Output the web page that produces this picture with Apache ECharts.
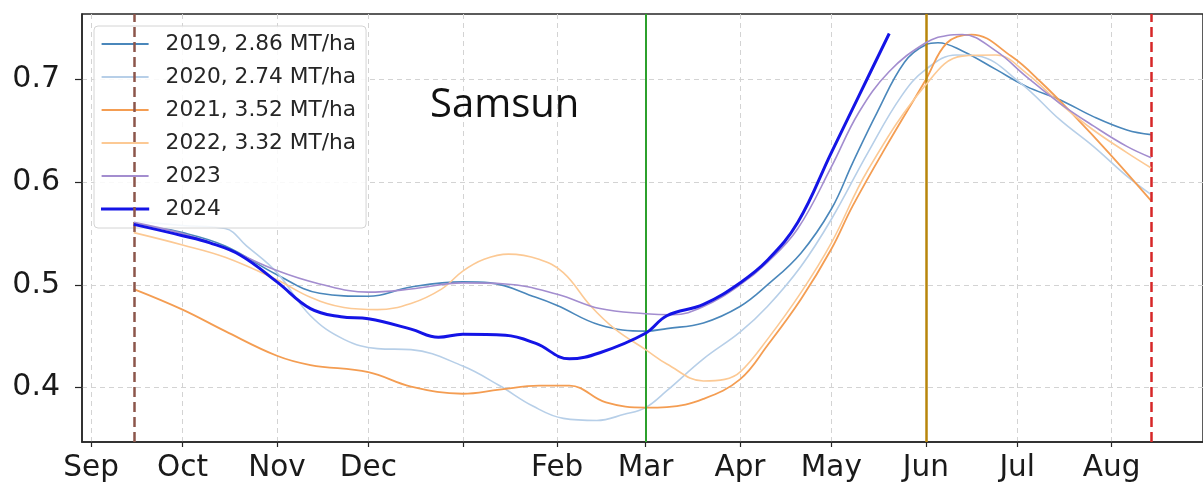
<!DOCTYPE html>
<html>
<head>
<meta charset="utf-8">
<script src="https://cdn.jsdelivr.net/npm/echarts@6/dist/echarts.min.js"></script>
<style>
html,body{margin:0;padding:0;background:#fff;}
#chart{width:1203px;height:491px;}
</style>
</head>
<body>
<div id="chart"></div>
<script>
// ---- tick labels ----
const monthTicks = ['2023-09-01','2023-10-01','2023-11-01','2023-12-01','2024-01-01','2024-02-01','2024-03-01','2024-04-01','2024-05-01','2024-06-01','2024-07-01','2024-08-01'];
const monthLabels = ['Sep','Oct','Nov','Dec','','Feb','Mar','Apr','May','Jun','Jul','Aug'];
const yTicks = [0.4, 0.5, 0.6, 0.7];

// ---- series names ----
const seriesNames = ['2019, 2.86 MT/ha','2020, 2.74 MT/ha','2021, 3.52 MT/ha','2022, 3.32 MT/ha','2023','2024'];

// ---- series values ----
const dates2019 = ['2023-09-15','2023-10-01','2023-10-15','2023-11-01','2023-11-15','2023-12-01','2023-12-15','2024-01-01','2024-01-10','2024-01-25','2024-02-01','2024-02-15','2024-03-01','2024-03-08','2024-03-20','2024-04-01','2024-04-10','2024-04-21','2024-05-01','2024-05-08','2024-05-16','2024-05-25','2024-06-01','2024-06-05','2024-06-13','2024-06-24','2024-07-04','2024-07-15','2024-07-26','2024-08-06','2024-08-14'];
const ndvi2019 = [0.560,0.551,0.538,0.510,0.492,0.489,0.498,0.503,0.502,0.488,0.480,0.461,0.455,0.4575,0.463,0.479,0.500,0.531,0.574,0.619,0.668,0.717,0.734,0.736,0.728,0.710,0.6935,0.6805,0.664,0.651,0.6465];

const dates2020 = ['2023-09-15','2023-10-01','2023-10-15','2023-10-22','2023-11-01','2023-11-12','2023-11-23','2023-12-04','2023-12-15','2024-01-01','2024-01-13','2024-01-24','2024-02-03','2024-02-14','2024-02-23','2024-03-01','2024-03-08','2024-03-20','2024-04-01','2024-04-10','2024-04-21','2024-05-01','2024-05-13','2024-05-24','2024-06-01','2024-06-11','2024-06-18','2024-07-02','2024-07-15','2024-07-26','2024-08-06','2024-08-14'];
const ndvi2020 = [0.562,0.558,0.555,0.538,0.512,0.470,0.447,0.438,0.437,0.421,0.402,0.382,0.370,0.368,0.374,0.3805,0.397,0.428,0.454,0.479,0.518,0.564,0.629,0.684,0.710,0.724,0.723,0.697,0.661,0.635,0.606,0.588];

const dates2021 = ['2023-09-15','2023-10-01','2023-10-15','2023-11-01','2023-11-12','2023-12-01','2023-12-15','2024-01-01','2024-01-13','2024-01-26','2024-02-05','2024-02-17','2024-03-01','2024-03-08','2024-03-20','2024-04-01','2024-04-10','2024-04-21','2024-05-01','2024-05-08','2024-05-19','2024-06-01','2024-06-08','2024-06-16','2024-06-29','2024-07-09','2024-07-20','2024-07-31','2024-08-14'];
const ndvi2021 = [0.496,0.476,0.455,0.431,0.422,0.415,0.401,0.394,0.398,0.402,0.402,0.3855,0.3805,0.381,0.389,0.408,0.441,0.486,0.535,0.577,0.635,0.700,0.736,0.744,0.723,0.697,0.664,0.629,0.582];

const dates2022 = ['2023-09-15','2023-10-01','2023-10-15','2023-11-01','2023-11-12','2023-11-23','2023-12-04','2023-12-15','2023-12-25','2024-01-01','2024-01-08','2024-01-16','2024-01-26','2024-02-03','2024-02-12','2024-02-20','2024-03-01','2024-03-08','2024-03-20','2024-03-27','2024-04-01','2024-04-10','2024-04-21','2024-05-01','2024-05-13','2024-06-01','2024-06-13','2024-06-24','2024-07-04','2024-07-15','2024-07-26','2024-08-06','2024-08-14'];
const ndvi2022 = [0.551,0.539,0.527,0.505,0.488,0.478,0.476,0.482,0.496,0.5135,0.525,0.530,0.525,0.512,0.4795,0.457,0.437,0.423,0.4065,0.408,0.415,0.447,0.4925,0.541,0.612,0.695,0.723,0.724,0.7065,0.677,0.651,0.629,0.614];

const dates2023 = ['2023-09-15','2023-10-01','2023-10-15','2023-11-01','2023-11-15','2023-12-01','2023-12-15','2024-01-01','2024-01-15','2024-02-01','2024-02-15','2024-03-01','2024-03-10','2024-03-20','2024-04-01','2024-04-10','2024-04-20','2024-05-01','2024-05-10','2024-05-20','2024-06-01','2024-06-08','2024-06-13','2024-06-24','2024-07-04','2024-07-15','2024-07-26','2024-08-06','2024-08-14'];
const ndvi2023 = [0.561,0.550,0.536,0.514,0.501,0.493,0.496,0.502,0.501,0.491,0.477,0.472,0.471,0.479,0.500,0.522,0.555,0.615,0.668,0.708,0.736,0.743,0.744,0.728,0.703,0.677,0.655,0.635,0.624];

const dates2024 = ['2023-09-15','2023-10-01','2023-10-10','2023-10-20','2023-11-01','2023-11-12','2023-11-22','2023-12-01','2023-12-15','2023-12-24','2024-01-01','2024-01-15','2024-01-25','2024-02-05','2024-02-15','2024-03-01','2024-03-08','2024-03-20','2024-04-01','2024-04-10','2024-04-20','2024-05-01','2024-05-10','2024-05-20'];
const ndvi2024 = [0.559,0.548,0.541,0.529,0.503,0.477,0.469,0.467,0.457,0.449,0.452,0.451,0.443,0.428,0.434,0.453,0.470,0.481,0.502,0.524,0.561,0.629,0.684,0.745];

// ---- reference dates (vertical markers) ----
const markerDates = ['2023-09-15','2024-03-01','2024-06-01','2024-08-14'];

// ---- helpers ----
const t = s => { const p = s.split('-'); return new Date(+p[0], +p[1] - 1, +p[2]).getTime(); };
const zip = (d, v) => d.map((s, i) => [t(s), v[i]]);
const tickTimes = monthTicks.map(t);

const FONT = '"DejaVu Sans", sans-serif';
const colors = ['#4a87bb','#b7cfe8','#f49d52','#fcc994','#a38dcf','#1414e6'];
const widths = [1.6,1.6,1.8,1.6,1.6,3];
const allDates = [dates2019,dates2020,dates2021,dates2022,dates2023,dates2024];
const allVals = [ndvi2019,ndvi2020,ndvi2021,ndvi2022,ndvi2023,ndvi2024];

const series = seriesNames.map((name, i) => ({
  name: name,
  type: 'line',
  data: zip(allDates[i], allVals[i]),
  smooth: 0.4,
  symbol: 'none',
  showSymbol: false,
  z: 2 + i,
  lineStyle: { color: colors[i], width: widths[i] },
  itemStyle: { color: colors[i] }
}));

const markerStyles = [
  { color: '#8c564b', width: 2.5, type: [10, 5] },
  { color: '#2ca02c', width: 2, type: 'solid' },
  { color: '#b8860b', width: 2.5, type: 'solid' },
  { color: '#d62728', width: 2.5, type: [10, 5] }
];
series.push({
  name: 'markers',
  type: 'line',
  data: [],
  z: 10,
  silent: true,
  markLine: {
    silent: true,
    symbol: ['none', 'none'],
    animation: false,
    label: { show: false },
    data: markerDates.map((d, i) => ({ xAxis: t(d), lineStyle: markerStyles[i] }))
  }
});

const legendData = seriesNames.map((name, i) => ({
  name: name,
  icon: 'rect',
  itemStyle: {
    color: colors[i],
    borderColor: colors[i],
    borderWidth: widths[i] > 2 ? 1.2 : 0
  }
}));

const chart = echarts.init(document.getElementById('chart'), null, { renderer: 'canvas' });
chart.setOption({
  animation: false,
  backgroundColor: '#fff',
  grid: {
    left: 82, right: -5, top: 14, bottom: 49,
    show: true, borderColor: '#262626', borderWidth: 1.5, backgroundColor: 'transparent'
  },
  legend: {
    data: legendData,
    orient: 'vertical',
    left: 94, top: 26,
    selectedMode: false,
    backgroundColor: 'rgba(255,255,255,0.85)',
    borderColor: '#d4d4d4', borderWidth: 1, borderRadius: 4,
    padding: [7, 10, 8, 7],
    itemWidth: 47, itemHeight: 2, itemGap: 11,
    textStyle: { fontFamily: FONT, fontSize: 21.7, color: '#262626', lineHeight: 22, padding: [0, 0, 0, 12] }
  },
  graphic: [{
    type: 'text', left: 430, top: 86, z: 20,
    style: { text: 'Samsun', font: '40px "Open Sans"', fill: '#111' }
  }],
  xAxis: {
    type: 'value',
    min: t('2023-08-29'),
    max: t('2024-08-31'),
    axisLine: { show: true, lineStyle: { color: '#262626', width: 1.5 } },
    axisTick: { show: true, customValues: tickTimes, length: 5, lineStyle: { color: '#262626', width: 1.2 } },
    axisLabel: {
      customValues: tickTimes,
      showMinLabel: true, showMaxLabel: true,
      margin: 11,
      fontFamily: FONT, fontSize: 29.5, color: '#1a1a1a',
      formatter: function (v) {
        for (let i = 0; i < tickTimes.length; i++) {
          if (Math.abs(tickTimes[i] - v) < 43200000) return monthLabels[i];
        }
        return '';
      }
    },
    splitLine: { show: true, lineStyle: { color: '#d3d3d3', width: 1, type: [5, 4] } }
  },
  yAxis: {
    type: 'value',
    min: 0.347, max: 0.764,
    axisLine: { show: true, lineStyle: { color: '#262626', width: 1.5 } },
    axisTick: { show: true, customValues: yTicks, length: 7, lineStyle: { color: '#262626', width: 1.2 } },
    axisLabel: {
      customValues: yTicks,
      margin: 22,
      fontFamily: FONT, fontSize: 30, color: '#1a1a1a',
      formatter: v => v.toFixed(1)
    },
    splitLine: { show: true, lineStyle: { color: '#d3d3d3', width: 1, type: [5, 4] } }
  },
  series: series
});
</script>
</body>
</html>
